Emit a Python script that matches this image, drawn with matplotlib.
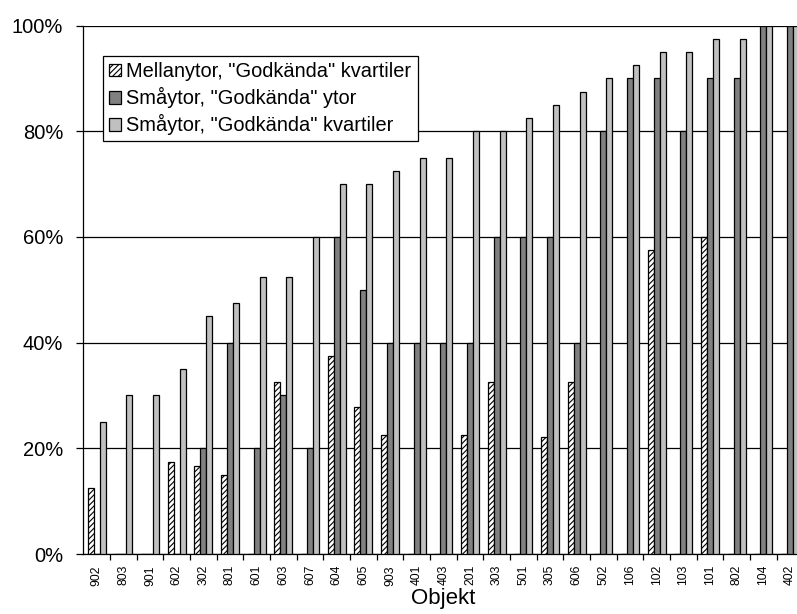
import numpy as np
import matplotlib
matplotlib.use("Agg")
import matplotlib.pyplot as plt

plt.rcParams['font.family'] = ['Liberation Sans', 'DejaVu Sans']
plt.rcParams['hatch.linewidth'] = 0.8

# objekt, sorterade efter andel godkända
objekt = ["902", "803", "901", "602", "302", "801", "601", "603", "607",
          "604", "605", "903", "401", "403", "201", "303", "501", "305",
          "606", "502", "106", "102", "103", "101", "802", "104", "402"]

# andel godkända i procent
mellan_kvartiler = [12.5, 0, 0, 17.5, 16.7, 15, 0, 32.5, 0,
                    37.5, 27.8, 22.5, 0, 0, 22.5, 32.5, 0, 22.2,
                    32.5, 0, 0, 57.5, 0, 60, 0, 0, 0]
sma_ytor = [0, 0, 0, 0, 20, 40, 20, 30, 20,
            60, 50, 40, 40, 40, 40, 60, 60, 60,
            40, 80, 90, 90, 80, 90, 90, 100, 100]
sma_kvartiler = [25, 30, 30, 35, 45, 47.5, 52.5, 52.5, 60,
                 70, 70, 72.5, 75, 75, 80, 80, 82.5, 85,
                 87.5, 90, 92.5, 95, 95, 97.5, 97.5, 100, 100]

fig = plt.figure(figsize=(7.97, 6.14), dpi=100)
ax = fig.add_axes([0.1045, 0.0977, 0.9034, 0.8607])

x = np.arange(len(objekt))
w = 0.225

ax.bar(x - w, mellan_kvartiler, w, color="white", edgecolor="black",
       hatch="//////", linewidth=0.9, label='Mellanytor, "Godkända" kvartiler', zorder=3)
ax.bar(x, sma_ytor, w, color="#808080", edgecolor="black",
       linewidth=0.9, label='Småytor, "Godkända" ytor', zorder=3)
ax.bar(x + w, sma_kvartiler, w, color="#c0c0c0", edgecolor="black",
       linewidth=0.9, label='Småytor, "Godkända" kvartiler', zorder=3)

ax.set_xlim(-0.5, len(objekt) - 0.5)
ax.set_ylim(0, 100)

# horisontella stödlinjer
ax.set_yticks([0, 20, 40, 60, 80, 100])
ax.set_yticklabels(["0%", "20%", "40%", "60%", "80%", "100%"], fontsize=14.5)
ax.yaxis.grid(True, color="black", linewidth=0.9, zorder=0)
ax.set_axisbelow(True)
ax.tick_params(axis="y", direction="out", length=5, width=0.9, pad=9.5)

ax.set_xticks(x)
ax.set_xticklabels(objekt, rotation=90, fontsize=8.7)
ax.set_xticks(x[:-1] + 0.5, minor=True)
ax.tick_params(axis="x", which="major", length=0, pad=8)
ax.tick_params(axis="x", which="minor", direction="out", length=4, width=0.9)
ax.set_xlabel("Objekt", fontsize=16, labelpad=2)

for s in ["top", "right"]:
    ax.spines[s].set_visible(False)
for s in ["left", "bottom"]:
    ax.spines[s].set_linewidth(0.9)

leg = ax.legend(loc="upper left", bbox_to_anchor=(0.028, 0.942), borderaxespad=0,
                fontsize=14.4, frameon=True, fancybox=False, edgecolor="black",
                framealpha=1, handlelength=0.6, handleheight=0.6,
                handletextpad=0.25, labelspacing=0.3, borderpad=0.3)
leg.get_frame().set_linewidth(0.9)
leg.set_zorder(5)

fig.savefig("out.png", dpi=100)
